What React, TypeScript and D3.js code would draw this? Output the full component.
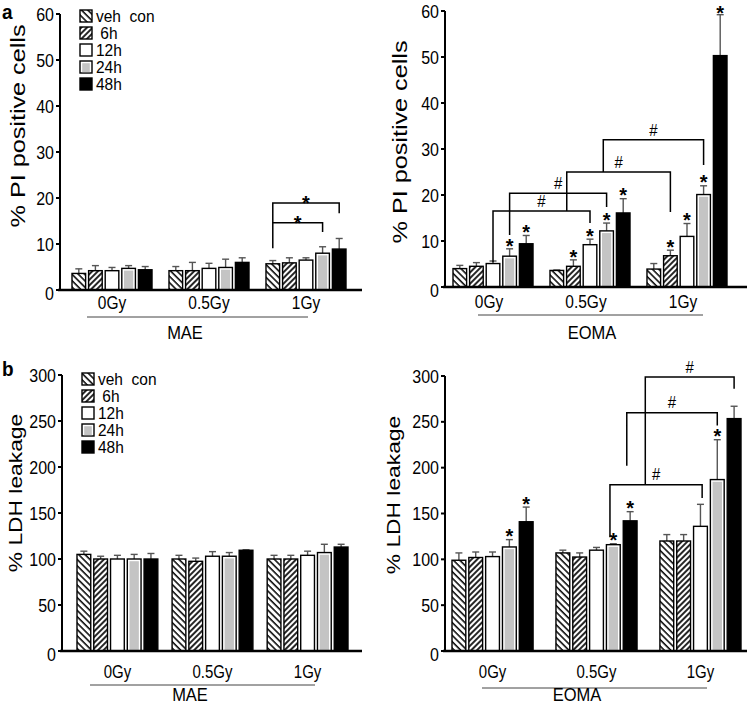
import React from "react";
import * as d3 from "d3";

// groups and series
const groups = ["0Gy", "0.5Gy", "1Gy"];
const series = ["veh  con", " 6h", "12h", "24h", "48h"];

// % PI positive cells, MAE (mean, error)
const maePI = [[3.6, 4.2, 4.2, 4.7, 4.4], [4.2, 4.2, 4.7, 4.9, 6.0], [5.7, 5.9, 6.5, 8.0, 8.9]];
const maePIErr = [[1.0, 1.1, 0.7, 0.6, 0.7], [0.9, 1.8, 1.1, 1.8, 1.0], [0.7, 1.1, 0.5, 1.4, 2.3]];

// % PI positive cells, EOMA
const eomaPI = [[4.0, 4.5, 5.1, 6.7, 9.4], [3.6, 4.5, 9.2, 12.2, 16.1], [3.9, 6.8, 11.0, 20.1, 50.3]];
const eomaPIErr = [[0.7, 0.8, 0.55, 1.6, 1.8], [0.1, 1.4, 1.2, 1.7, 3.1], [1.2, 1.2, 2.8, 1.9, 8.9]];

// % LDH leakage, MAE
const maeLDH = [[105, 100, 100, 100, 100], [100, 97.5, 103, 103, 109.5], [100, 100, 104, 107, 113]];
const maeLDHErr = [[3.5, 3, 4, 5, 6], [4, 3.5, 5, 4, 0.5], [4, 4, 4.5, 9, 3]];

// % LDH leakage, EOMA
const eomaLDH = [[99, 102, 103, 113.5, 141], [107, 102.5, 110, 116, 142], [120, 120, 136, 187, 253.5]];
const eomaLDHErr = [[8, 6, 5, 8, 16], [3, 4.5, 3, 1, 10], [7, 7, 24, 43.5, 13.5]];

const piTicks = [0, 10, 20, 30, 40, 50, 60];
const ldhTicks = [0, 50, 100, 150, 200, 250, 300];

// significance marks: [group, series]
const eomaPIStars = [[0, 3], [0, 4], [1, 1], [1, 2], [1, 3], [1, 4], [2, 1], [2, 2], [2, 3], [2, 4]];
const eomaLDHStars = [[0, 3], [0, 4], [1, 3], [1, 4], [2, 3]];

// brackets: from [group, series] to [group, series], y values in data units
const maePIBrackets = [
  { from: [2, 0], to: [2, 3], y0: 9.1, y1: 14.6, y2: 12.6, mark: "*" },
  { from: [2, 0], to: [2, 4], y0: 14.6, y1: 18.9, y2: 16.7, mark: "*" },
];
const eomaPIBrackets = [
  { from: [0, 2], to: [1, 2], y0: 5.4, y1: 16.5, y2: 13.9, mark: "#" },
  { from: [0, 3], to: [1, 3], y0: 11.3, y1: 20.4, y2: 17.4, mark: "#" },
  { from: [1, 0.6], to: [2, 1], y0: 16.5, y1: 25, y2: 16.3, mark: "#" },
  { from: [1, 2.8], to: [2, 3], y0: 25, y1: 32, y2: 26.5, mark: "#" },
];
const eomaLDHBrackets = [
  { from: [1, 2.8], to: [2, 2.1], y0: 124, y1: 181.5, y2: 167, mark: "#" },
  { from: [1, 3.8], to: [2, 3], y0: 202, y1: 260, y2: 246, mark: "#" },
  { from: [1, 4.9], to: [2, 4], y0: 181.5, y1: 299, y2: 286, mark: "#" },
];

const FONT = "'Liberation Sans', Arial, Helvetica, sans-serif";
const fills = ["url(#hatchB)", "url(#hatchF)", "#fff", "#c4c4c4", "#000"];

function T({ x, y, size = 15, anchor = "middle", weight = "normal", sy = 1.2, rot = 0, children }) {
  return (
    <text
      transform={`translate(${x},${y}) scale(1,${sy})${rot ? ` rotate(${rot})` : ""}`}
      fontSize={size}
      fontWeight={weight}
      textAnchor={anchor}
      dominantBaseline="central"
      fontFamily={FONT}
      style={{ whiteSpace: "pre" }}
    >
      {children}
    </text>
  );
}

function Bar({ x, y, w, h, i }) {
  if (i === 3 || i === 2) {
    return (
      <g>
        <rect x={x} y={y} width={w} height={h} fill="#fff" stroke="#000" strokeWidth={1.4} />
        {i === 3 && <rect x={x + 2.2} y={y + 2.2} width={Math.max(0, w - 4.4)} height={Math.max(0, h - 3)} fill="#c4c4c4" />}
      </g>
    );
  }
  return <rect x={x} y={y} width={w} height={h} fill={fills[i]} stroke="#000" strokeWidth={1.4} />;
}

function Panel({ values, errs, yMax, ticks, yLabel, name, L, stars = [], brackets = [], legend = false, letter }) {
  const y = d3.scaleLinear().domain([0, yMax]).range([L.y0, L.yTop]);
  const gx = d3.scaleBand().domain(groups).range([L.bar0, L.bar1]).paddingInner(L.gpad).paddingOuter(0);
  const sx = d3.scaleBand().domain(series.map((_, i) => i)).range([0, gx.bandwidth()]).paddingInner(0.18);
  const bw = sx.bandwidth();
  const step = sx.step();
  const cx = (g, s) => gx(groups[g]) + s * step + bw / 2;

  return (
    <g>
      {letter && <T x={L.letterX} y={L.letterY} size={19} weight="bold" anchor="start" sy={1.1}>{letter}</T>}
      {values.map((row, g) =>
        row.map((v, i) => {
          const x = gx(groups[g]) + sx(i);
          const top = y(v + errs[g][i]);
          return (
            <g key={`${g}-${i}`}>
              <line x1={x + bw / 2} x2={x + bw / 2} y1={y(v)} y2={top} stroke="#555" strokeWidth={1.4} />
              <line x1={x + bw / 2 - 3.5} x2={x + bw / 2 + 3.5} y1={top} y2={top} stroke="#555" strokeWidth={1.4} />
              <Bar x={x} y={y(v)} w={bw} h={L.y0 - y(v)} i={i} />
            </g>
          );
        })
      )}
      {/* axes */}
      <line x1={L.axisX} x2={L.axisX} y1={L.y0} y2={L.yTop} stroke="#000" strokeWidth={2} />
      <line x1={L.axisX - 2} x2={L.xEnd} y1={L.y0} y2={L.y0} stroke="#000" strokeWidth={2.5} />
      {ticks.map((t) => (
        <g key={t}>
          <line x1={L.axisX - 4} x2={L.axisX} y1={y(t)} y2={y(t)} stroke="#000" strokeWidth={2} />
          <T x={L.axisX - 6} y={y(t) + (t === 0 ? 3 : 0)} anchor="end" size={16}>{t}</T>
        </g>
      ))}
      {groups.map((g) => (
        <T key={g} x={gx(g) + gx.bandwidth() / 2 + (L.labShift || 0)} y={L.labY} size={L.labSize || 15.5}>{g}</T>
      ))}
      <line x1={L.line0} x2={L.line1} y1={L.lineY} y2={L.lineY} stroke="#444" strokeWidth={1} />
      <T x={L.nameX} y={L.nameY} size={16.5} sy={1.1}>{name}</T>
      <T x={L.titleX} y={L.titleY} size={L.titleSize} rot={-90}>{yLabel}</T>
      {/* stars over bars */}
      {stars.map(([g, s]) => (
        <T key={`s${g}${s}`} x={cx(g, s)} y={Math.max(12, y(values[g][s] + errs[g][s]) - 4)} size={20} weight="bold" sy={1.05}>*</T>
      ))}
      {/* brackets */}
      {brackets.map((b, k) => {
        const x1 = cx(b.from[0], b.from[1]);
        const x2 = cx(b.to[0], b.to[1]);
        return (
          <g key={`b${k}`}>
            <path d={`M${x1},${y(b.y0)}V${y(b.y1)}H${x2}V${y(b.y2)}`} fill="none" stroke="#000" strokeWidth={1.5} />
            {b.mark === "*" ? (
              <T x={(x1 + x2) / 2} y={y(b.y1) - 1} size={20} weight="bold" sy={1.05}>*</T>
            ) : (
              <T x={(x1 + x2) / 2} y={y(b.y1) - 10} size={15} sy={1.1}>#</T>
            )}
          </g>
        );
      })}
      {legend &&
        series.map((s, i) => {
          const ly = L.legY + i * 17;
          return (
            <g key={s}>
              <Bar x={L.axisX + 20} y={ly - 6} w={12} h={12} i={i} />
              <T x={L.axisX + 36} y={ly} size={15.5} anchor="start" sy={1.05}>{s}</T>
            </g>
          );
        })}
    </g>
  );
}

const layoutAL = { axisX: 60, y0: 290, yTop: 14, xEnd: 362, bar0: 72, bar1: 346, gpad: 0.175, labY: 303, line0: 87, line1: 308, lineY: 317, nameX: 185, nameY: 333, titleX: 18, titleY: 126, titleSize: 21, legY: 16, letterX: 2, letterY: 12 };
const layoutAR = { axisX: 445, y0: 287, yTop: 11, xEnd: 747, bar0: 453, bar1: 727, gpad: 0.175, labY: 302, labShift: -4, line0: 478, line1: 703, lineY: 315, nameX: 592, nameY: 333, titleX: 400, titleY: 142, titleSize: 21 };
const layoutBL = { axisX: 62, y0: 651, yTop: 375, xEnd: 362, bar0: 77, bar1: 348, gpad: 0.15, labY: 672, labSize: 15, line0: 90, line1: 315, lineY: 685, nameX: 190, nameY: 695, titleX: 15, titleY: 493, titleSize: 19, legY: 379, letterX: 2, letterY: 369 };
const layoutBR = { axisX: 445, y0: 651, yTop: 376, xEnd: 747, bar0: 452, bar1: 741, gpad: 0.22, labY: 672, labSize: 15, line0: 482, line1: 707, lineY: 688, nameX: 577, nameY: 695, titleX: 393, titleY: 495, titleSize: 19 };

export default function App() {
  return (
    <svg width={750} height={707} style={{ position: "absolute", left: 0, top: 0, background: "#fff" }}>
      <defs>
        <pattern id="hatchB" patternUnits="userSpaceOnUse" width={4.5} height={10} patternTransform="rotate(-45)">
          <rect width={4.5} height={10} fill="#fff" />
          <line x1={1} x2={1} y1={0} y2={10} stroke="#000" strokeWidth={1.5} />
        </pattern>
        <pattern id="hatchF" patternUnits="userSpaceOnUse" width={4} height={10} patternTransform="rotate(45)">
          <rect width={4} height={10} fill="#fff" />
          <line x1={1} x2={1} y1={0} y2={10} stroke="#000" strokeWidth={1.7} />
        </pattern>
      </defs>
      <rect width={750} height={707} fill="#fff" />
      <Panel values={maePI} errs={maePIErr} yMax={60} ticks={piTicks} yLabel="% PI positive cells" name="MAE" L={layoutAL} brackets={maePIBrackets} legend letter="a" />
      <Panel values={eomaPI} errs={eomaPIErr} yMax={60} ticks={piTicks} yLabel="% PI positive cells" name="EOMA" L={layoutAR} stars={eomaPIStars} brackets={eomaPIBrackets} />
      <Panel values={maeLDH} errs={maeLDHErr} yMax={300} ticks={ldhTicks} yLabel="% LDH leakage" name="MAE" L={layoutBL} legend letter="b" />
      <Panel values={eomaLDH} errs={eomaLDHErr} yMax={300} ticks={ldhTicks} yLabel="% LDH leakage" name="EOMA" L={layoutBR} stars={eomaLDHStars} brackets={eomaLDHBrackets} />
    </svg>
  );
}
